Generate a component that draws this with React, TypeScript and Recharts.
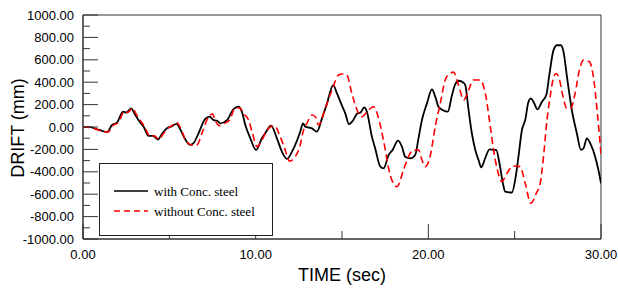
import { LineChart, Line, XAxis, YAxis, ReferenceArea, Legend } from "recharts";

// [time (sec), drift (mm)]
const withSteel: [number, number][] = [
  [0, 0], [0.4, -2], [0.81, -20], [1.1, -35], [1.39, -45], [1.68, 18], [1.97, 40],
  [2.32, 137], [2.51, 128], [2.78, 167], [3.03, 107], [3.28, 47], [3.51, 3],
  [3.8, -80], [4.05, -80], [4.34, -112], [4.57, -62], [4.86, -12], [5.1, 3],
  [5.42, 28], [5.63, -20], [5.92, -110], [6.21, -160], [6.4, -145], [6.69, -56],
  [7.08, 72], [7.33, 92], [7.56, 62], [7.76, 56], [7.95, 33], [8.34, 62],
  [8.72, 160], [9.01, 181], [9.2, 137], [9.4, 18], [9.69, -101], [10.03, -205],
  [10.36, -101], [10.55, -56], [10.89, 12], [11.23, -101], [11.52, -220],
  [11.81, -285], [12.2, -190], [12.58, -42], [12.74, 33], [12.87, 3], [13.26, -12],
  [13.55, -42], [13.84, 77], [14.13, 211], [14.49, 374], [14.71, 300], [15.0, 190],
  [15.19, 122], [15.4, 25], [15.6, 50], [15.9, 122], [16.06, 128], [16.29, 175],
  [16.44, 137], [16.73, -86], [16.92, -190], [17.22, -354], [17.41, -369],
  [17.7, -250], [17.93, -205], [18.24, -122], [18.47, -175], [18.66, -265],
  [18.95, -280], [19.24, -250], [19.43, -101], [19.63, 62], [19.92, 211],
  [20.21, 336], [20.4, 271], [20.59, 181], [20.85, 150], [21.13, 137], [21.37, 285],
  [21.56, 383], [21.75, 413], [22.04, 395], [22.14, 374], [22.33, 152], [22.52, -56],
  [22.72, -205], [22.91, -295], [23.06, -360], [23.29, -280], [23.54, -199],
  [23.78, -205], [23.93, -205], [24.12, -324], [24.32, -503], [24.45, -577],
  [24.84, -585], [25.03, -472], [25.22, -265], [25.42, -27], [25.61, 62],
  [25.8, 226], [25.94, 256], [26.09, 226], [26.32, 158], [26.58, 226], [26.83, 285],
  [27.02, 478], [27.25, 686], [27.45, 730], [27.68, 730], [27.83, 671], [28.03, 448],
  [28.31, 152], [28.6, -56], [28.84, -205], [28.99, -190], [29.18, -101],
  [29.42, -160], [29.66, -265], [29.85, -384], [30, -503],
];

const withoutSteel: [number, number][] = [
  [0, 0], [0.5, -5], [0.85, -25], [1.45, -45], [1.75, 15], [2.05, 40], [2.4, 140],
  [2.6, 130], [2.87, 168], [3.1, 110], [3.38, 45], [3.58, 0], [3.88, -85],
  [4.12, -78], [4.4, -110], [4.65, -60], [4.93, -10], [5.12, 10], [5.42, 40],
  [5.7, -25], [5.95, -120], [6.4, -165], [6.6, -160], [6.9, -50], [7.2, 70],
  [7.5, 118], [7.65, 60], [7.91, 12], [8.15, 30], [8.49, 62], [8.82, 172],
  [9.1, 170], [9.3, 120], [9.59, 62], [9.79, -42], [10.08, -175], [10.36, -116],
  [10.75, -12], [11.0, 10], [11.14, 3], [11.42, -86], [11.71, -205], [11.96, -305],
  [12.29, -265], [12.58, -160], [12.75, -40], [12.97, 33], [13.26, 107],
  [13.45, 92], [13.64, 18], [14.0, 152], [14.42, 330], [14.8, 464], [15.0, 473],
  [15.28, 464], [15.57, 300], [15.87, 152], [16.15, 92], [16.54, 152], [16.83, 181],
  [17.12, 77], [17.4, -116], [17.79, -428], [18.18, -533], [18.56, -384],
  [18.85, -265], [19.14, -205], [19.43, -205], [19.63, -295], [19.82, -354],
  [20.1, -265], [20.4, 3], [20.69, 211], [20.98, 420], [21.13, 464], [21.46, 490],
  [21.75, 374], [22.05, 241], [22.33, 330], [22.62, 420], [23.0, 420], [23.3, 300],
  [23.59, 3], [23.78, -205], [24.0, -384], [24.26, -487], [24.55, -413],
  [24.93, -348], [25.32, -354], [25.61, -503], [25.94, -681], [26.25, -592],
  [26.48, -503], [26.68, -250], [26.87, 62], [27.07, 285], [27.26, 448],
  [27.41, 478], [27.6, 420], [27.8, 271], [28.02, 167], [28.25, 167], [28.5, 300],
  [28.75, 508], [28.98, 597], [29.33, 582], [29.56, 448], [29.79, 122], [30, -240],
];

const timeTicks = [0, 5, 10, 15, 20, 25, 30];
const driftTicks = [
  -1000, -900, -800, -700, -600, -500, -400, -300, -200, -100, 0,
  100, 200, 300, 400, 500, 600, 700, 800, 900, 1000,
];

const seriesNames = ["with Conc. steel", "without Conc. steel"];

const tickFont = "'Liberation Sans', Arial, sans-serif";
const axisColor = "#333";

const toPoints = (rows: [number, number][]) => rows.map(([t, v]) => ({ t, v }));

function DriftTick({ x, y, payload }: any) {
  const major = payload.value % 200 === 0;
  return (
    <g>
      <line x1={x} x2={x + (major ? 15 : 7)} y1={y} y2={y} stroke={axisColor} />
      {major && (
        <text x={x - 9} y={y + 4.5} textAnchor="end" fontSize={13} fontFamily={tickFont} fill="#000">
          {payload.value.toFixed(2)}
        </text>
      )}
    </g>
  );
}

function TimeTick({ x, y, payload }: any) {
  const major = payload.value % 10 === 0;
  return (
    <g>
      <line x1={x} x2={x} y1={y} y2={y - (major ? 15 : 8)} stroke={axisColor} />
      {major && (
        <text x={x} y={y + 20} textAnchor="middle" fontSize={13} fontFamily={tickFont} fill="#000">
          {payload.value.toFixed(2)}
        </text>
      )}
    </g>
  );
}

function LegendBox({ payload }: any) {
  const items = payload || [];
  return (
    <svg width={174} height={73} style={{ display: "block" }}>
      <rect x={0.5} y={0.5} width={173} height={72} fill="#fff" stroke="#222" />
      {items.map((item: any, i: number) => {
        const cy = 28 + i * 20;
        return (
          <g key={item.value}>
            <line
              x1={15}
              x2={49}
              y1={cy}
              y2={cy}
              stroke={item.color}
              strokeWidth={1.6}
              strokeDasharray={i === 1 ? "6 4" : undefined}
            />
            <text
              x={55}
              y={cy + 4.5}
              fontSize={13}
              fontFamily="'Liberation Serif', 'Times New Roman', serif"
              fill="#000"
            >
              {item.value}
            </text>
          </g>
        );
      })}
    </svg>
  );
}

export default function App() {
  return (
    <div style={{ position: "absolute", left: 0, top: 0, width: 618, height: 288, background: "#fff" }}>
      <LineChart width={618} height={288} margin={{ top: 15, right: 17, left: 0, bottom: 0 }}>
        <XAxis
          dataKey="t"
          type="number"
          domain={[0, 30]}
          ticks={timeTicks}
          interval={0}
          height={49}
          tickSize={0}
          tickMargin={0}
          tick={<TimeTick />}
          axisLine={{ stroke: axisColor }}
          tickLine={false}
          allowDataOverflow
          label={{
            content: () => (
              <text x={342} y={281} textAnchor="middle" fontSize={18} fontFamily={tickFont} fill="#000">
                TIME (sec)
              </text>
            ),
          }}
        />
        <YAxis
          type="number"
          domain={[-1000, 1000]}
          ticks={driftTicks}
          interval={0}
          width={83}
          tickSize={0}
          tickMargin={0}
          tick={<DriftTick />}
          axisLine={{ stroke: axisColor }}
          tickLine={false}
          allowDataOverflow
          label={{
            content: () => (
              <text
                x={24}
                y={128}
                transform="rotate(-90 24 128)"
                textAnchor="middle"
                fontSize={18}
                fontFamily={tickFont}
                fill="#000"
              >
                DRIFT (mm)
              </text>
            ),
          }}
        />
        <ReferenceArea x1={0} x2={30} y1={-1000} y2={1000} fill="none" stroke={axisColor} strokeWidth={1} />
        <Line
          data={toPoints(withSteel)}
          dataKey="v"
          name={seriesNames[0]}
          type="monotone"
          stroke="#000"
          strokeWidth={1.8}
          dot={false}
          isAnimationActive={false}
        />
        <Line
          data={toPoints(withoutSteel)}
          dataKey="v"
          name={seriesNames[1]}
          type="monotone"
          stroke="#ff0000"
          strokeWidth={1.6}
          strokeDasharray="7 4"
          dot={false}
          isAnimationActive={false}
        />
        <Legend
          layout="horizontal"
          verticalAlign="middle"
          align="center"
          content={<LegendBox />}
          wrapperStyle={{ left: 99, top: 163, width: 174, height: 73 }}
        />
      </LineChart>
    </div>
  );
}
